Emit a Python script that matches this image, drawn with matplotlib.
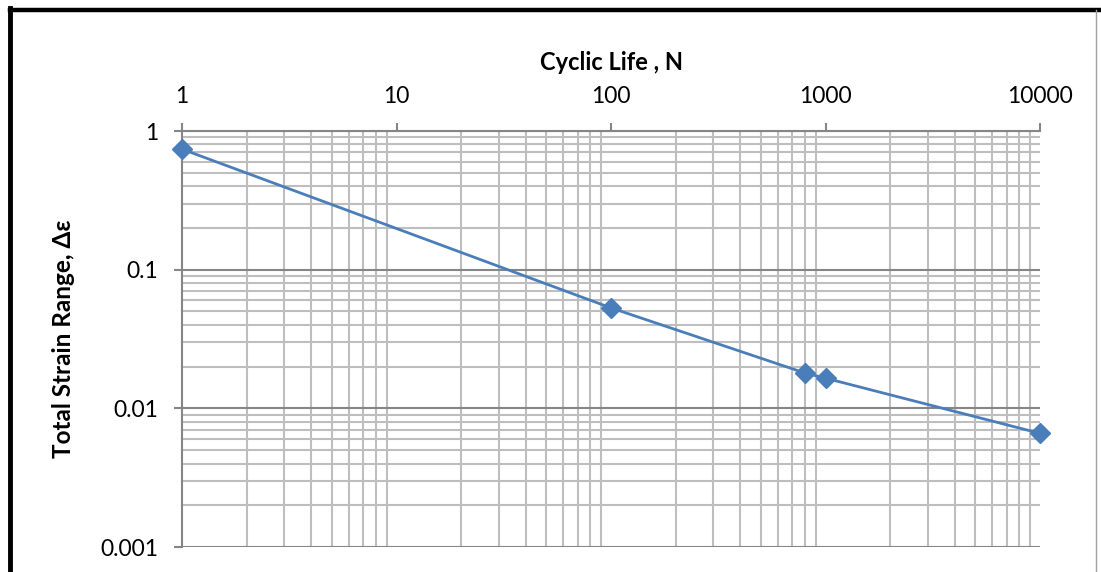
import matplotlib
matplotlib.use("Agg")
import matplotlib.pyplot as plt
from matplotlib.ticker import LogLocator, FixedLocator, NullFormatter
from matplotlib.lines import Line2D

plt.rcParams['font.family'] = ['Lato', 'DejaVu Sans']

cycles = [1, 100, 800, 1000, 10000]
strain = [0.74, 0.053, 0.018, 0.0165, 0.0066]
x_ticks = [1, 10, 100, 1000, 10000]
x_tick_labels = ["1", "10", "100", "1000", "10000"]
y_ticks = [0.001, 0.01, 0.1, 1]
y_tick_labels = ["0.001", "0.01", "0.1", "1"]

fig = plt.figure(figsize=(11.01, 5.72), dpi=100)
ax = fig.add_axes([182/1101, 1-547/572, (1040-182)/1101, (547-131)/572])

ax.set_xscale('log')
ax.set_yscale('log')
ax.set_xlim(1, 10000)
ax.set_ylim(0.001, 1)

minor_c = '#BEBEBE'
major_c = '#868686'

ax.xaxis.set_minor_locator(LogLocator(base=10, subs=range(2, 10)))
ax.yaxis.set_minor_locator(LogLocator(base=10, subs=range(2, 10)))
ax.xaxis.set_minor_formatter(NullFormatter())
ax.yaxis.set_minor_formatter(NullFormatter())
ax.grid(True, which='minor', axis='both', color=minor_c, linewidth=1.5)
ax.grid(True, which='major', axis='y', color=major_c, linewidth=1.5)
ax.grid(False, which='major', axis='x')

ax.xaxis.set_major_locator(FixedLocator(x_ticks))
ax.set_xticklabels(x_tick_labels)
ax.yaxis.set_major_locator(FixedLocator(y_ticks))
ax.set_yticklabels(y_tick_labels)

ax.xaxis.tick_top()
ax.xaxis.set_label_position('top')
ax.tick_params(axis='both', which='minor', length=0)
ax.tick_params(axis='both', which='major', length=6, width=1.5, color=major_c,
               labelsize=16.5, labelcolor='black', direction='out')
ax.tick_params(axis='x', which='major', pad=11)
ax.tick_params(axis='y', which='major', pad=11)

for s in ['right', 'bottom']:
    ax.spines[s].set_visible(False)
ax.spines['top'].set_color(major_c)
ax.spines['top'].set_linewidth(1.5)
ax.spines['left'].set_color(major_c)
ax.spines['left'].set_linewidth(1.5)
ax.set_axisbelow(True)

ax.plot(cycles, strain, color='#4A7EBB', linewidth=2, marker='D', markersize=10,
        markerfacecolor='#4A7EBB', markeredgecolor='#4A7EBB', clip_on=False, zorder=5)

ax.set_xlabel('Cyclic Life , N', fontsize=17, fontweight='bold', labelpad=12)
ax.set_ylabel('Total Strain Range, \u0394\u03b5', fontsize=17.5, fontweight='bold', labelpad=18)

# figure border (cropped chart frame)
fig.add_artist(Line2D([9.5/1101, 9.5/1101], [0, 1-8/572], transform=fig.transFigure,
                      color='black', linewidth=3.5, solid_capstyle='projecting'))
fig.add_artist(Line2D([9.5/1101, 1.0], [1-10/572, 1-10/572], transform=fig.transFigure,
                      color='black', linewidth=3.2))
fig.add_artist(Line2D([1096/1101, 1096/1101], [0, 1-10/572], transform=fig.transFigure,
                      color='#A0A0A0', linewidth=1))

fig.savefig('out.png', dpi=100)
